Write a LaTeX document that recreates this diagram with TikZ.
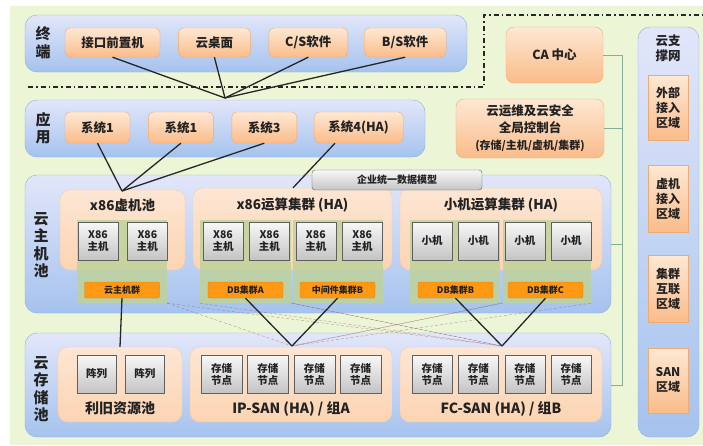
\documentclass[tikz,border=0pt]{standalone}
\usepackage{fontspec}
\setmainfont{Noto Sans CJK SC}
\usetikzlibrary{positioning}
\definecolor{bggreen}{RGB}{236,246,214}
\definecolor{bandtop}{RGB}{226,230,250}
\definecolor{bandbot}{RGB}{165,195,238}
\definecolor{bandline}{RGB}{140,172,220}
\definecolor{orgtop}{RGB}{254,232,212}
\definecolor{orgbot}{RGB}{250,188,138}
\definecolor{orgline}{RGB}{238,170,115}
\definecolor{pooltop}{RGB}{253,230,212}
\definecolor{poolbot}{RGB}{252,212,178}
\definecolor{hosttop}{RGB}{248,248,248}
\definecolor{hostbot}{RGB}{196,196,196}
\definecolor{hostline}{RGB}{95,95,95}
\definecolor{barfill}{RGB}{255,152,18}
\definecolor{grpfill}{RGB}{190,210,155}
\definecolor{busline}{RGB}{135,175,150}
\definecolor{txt}{RGB}{34,34,34}
\tikzset{
  band/.style = {draw=bandline, rounded corners=12pt, top color=bandtop, bottom color=bandbot, inner sep=0pt},
  layertitle/.style = {align=center, font=\bfseries\fontsize{15}{17.5}\selectfont, text=txt},
  obox/.style = {draw=orgline, rounded corners=5pt, top color=orgtop, bottom color=orgbot, minimum height=29pt, inner sep=0pt, align=center, font=\bfseries\fontsize{12.5}{15}\selectfont, text=txt},
  pool/.style = {draw=orgline!60, rounded corners=10pt, top color=pooltop, bottom color=poolbot, inner sep=0pt},
  pooltitle/.style = {font=\bfseries\fontsize{13.5}{16}\selectfont, text=txt},
  grp/.style = {fill=grpfill, fill opacity=0.85, minimum height=83pt, inner sep=0pt},
  hostbox/.style = {draw=hostline, top color=hosttop, bottom color=hostbot, minimum width=40pt, minimum height=38pt, inner sep=0pt, align=center, font=\bfseries\fontsize{10.5}{12}\selectfont, text=txt},
  bar/.style = {fill=barfill, draw=barfill!85!black, rounded corners=2pt, minimum width=75pt, minimum height=16pt, inner sep=0pt, font=\bfseries\fontsize{9}{10}\selectfont, text=txt},
  zone/.style = {draw=orgline, top color=orgtop, bottom color=orgbot, minimum width=40pt, inner sep=0pt, align=center, font=\bfseries\fontsize{12}{15}\selectfont, text=txt},
  link/.style = {draw=black!85, line width=1.3pt},
  backup/.style = {draw=red!20!gray, densely dashed, line width=0.5pt, opacity=0.55},
  bus/.style = {draw=busline, line width=0.8pt},
  edgeline/.style = {draw=black!85, line width=1.6pt, dash pattern=on 5pt off 3pt on 1.5pt off 3pt}
}

\begin{document}
\begin{tikzpicture}[x=1pt, y=-1pt]
    \useasboundingbox (0,0) rectangle (703,445);
    \fill [bggreen] (10,6) rectangle (703,445);

    % Layer bands
    \node [band, minimum width=442pt, minimum height=57pt] (term) at (246,43.5) {};
    \node [band, minimum width=400pt, minimum height=57pt] (app) at (225,128.5) {};
    \node [band, minimum width=586pt, minimum height=138pt] (hostpool) at (318,244) {};
    \node [band, minimum width=586pt, minimum height=104pt] (storepool) at (318,385) {};
    \node [band, minimum width=61pt, minimum height=410pt] (supnet) at (668.5,232) {};

    \node [layertitle] (termtitle) at (43,43) {终\\端};
    \node [layertitle] (apptitle) at (43,128) {应\\用};
    \node [layertitle] (hostpooltitle) at (41,245) {云\\主\\机\\池};
    \node [layertitle] (storepooltitle) at (41,389) {云\\存\\储\\池};
    \node [layertitle, font=\bfseries\fontsize{12.5}{15}\selectfont] (supnettitle) at (668,48) {云支\\撑网};

    % Boundary of the terminal zone
    \draw [edgeline] (28,87) -- (484,87) -- (484,15) -- (703,15);

    % Terminal layer
    \node [obox, minimum width=95pt] (gateway) at (112.5,42.5) {接口前置机};
    \node [obox, minimum width=72pt, right=18pt of gateway] (desktop) {云桌面};
    \node [obox, minimum width=79pt, right=18pt of desktop] (csapp) {C/S软件};
    \node [obox, minimum width=82pt, right=16pt of csapp] (bsapp) {B/S软件};

    % Application layer
    \node [obox, minimum width=65pt, minimum height=31pt] (sysa) at (97.5,127.5) {系统1};
    \node [obox, minimum width=65pt, minimum height=31pt, right=18pt of sysa] (sysb) {系统1};
    \node [obox, minimum width=65pt, minimum height=31pt, right=18pt of sysb] (sysc) {系统3};
    \node [obox, minimum width=89pt, minimum height=31pt, right=17pt of sysc] (sysd) {系统4(HA)};

    % Management side
    \node [obox, minimum width=97pt, minimum height=56pt, rounded corners=8pt] (ca) at (554.5,55) {CA 中心};
    \node [obox, minimum width=148pt, minimum height=59pt, rounded corners=8pt, font=\bfseries\fontsize{12.5}{17}\selectfont] (console) at (530,128.5)
        {云运维及云安全\\全局控制台\\{\fontsize{11}{13}\selectfont (存储/主机/虚机/集群)}};

    % Support network zones
    \node [zone, minimum height=65pt] (extzone) at (668,107.5) {外部\\接入\\区域};
    \node [zone, minimum height=67pt] (vmzone) at (668,198.5) {虚机\\接入\\区域};
    \node [zone, minimum height=67pt] (clzone) at (668,288.5) {集群\\互联\\区域};
    \node [zone, minimum height=65pt] (sanzone) at (668,380.5) {SAN\\区域};

    % Host pools
    \node [pool, minimum width=125pt, minimum height=80pt] (vmpool) at (122.5,230) {};
    \node [pool, minimum width=199pt, minimum height=82pt] (x86pool) at (292.5,229) {};
    \node [pool, minimum width=202pt, minimum height=82pt] (minipool) at (501,229) {};
    \node [pooltitle] (vmpooltitle) at (122.5,205) {x86虚机池};
    \node [pooltitle] (x86pooltitle) at (292.5,205) {x86运算集群 (HA)};
    \node [pooltitle] (minipooltitle) at (501,205) {小机运算集群 (HA)};

    \node [grp, minimum width=90pt] (vmgrp) at (122,261.5) {};
    \node [grp, minimum width=91pt] (dbagrp) at (245.5,261.5) {};
    \node [grp, minimum width=90pt] (mwbgrp) at (338,261.5) {};
    \node [grp, minimum width=90pt] (dbbgrp) at (455,261.5) {};
    \node [grp, minimum width=88pt] (dbcgrp) at (547,261.5) {};

    \node [hostbox] (vmh1) at (98,241) {X86\\主机};
    \node [hostbox, right=9pt of vmh1] (vmh2) {X86\\主机};
    \node [hostbox] (x86h1) at (223,241) {X86\\主机};
    \node [hostbox, right=6pt of x86h1] (x86h2) {X86\\主机};
    \node [hostbox, right=6pt of x86h2] (x86h3) {X86\\主机};
    \node [hostbox, right=6pt of x86h3] (x86h4) {X86\\主机};
    \node [hostbox] (minih1) at (432,241) {小机};
    \node [hostbox, right=6pt of minih1] (minih2) {小机};
    \node [hostbox, right=6pt of minih2] (minih3) {小机};
    \node [hostbox, right=6pt of minih3] (minih4) {小机};

    \node [bar] (vmbar) at (122,290) {云主机群};
    \node [bar] (dbabar) at (245.5,290) {DB集群A};
    \node [bar] (mwbbar) at (337.5,290) {中间件集群B};
    \node [bar] (dbbbar) at (455.5,290) {DB集群B};
    \node [bar] (dbcbar) at (545.5,290) {DB集群C};

    \node [hostbox, minimum width=170pt, minimum height=20pt, rounded corners=3pt, font=\bfseries\fontsize{10}{12}\selectfont] (datamodel) at (397,180) {企业统一数据模型};

    % Storage pools
    \node [pool, minimum width=124pt, minimum height=75pt] (legacy) at (120,384.5) {};
    \node [pool, minimum width=202pt, minimum height=75pt] (ipsan) at (291,384.5) {};
    \node [pool, minimum width=202pt, minimum height=75pt] (fcsan) at (501,384.5) {};
    \node [pooltitle, font=\bfseries\fontsize{14}{16}\selectfont] (legacytitle) at (120,408.5) {利旧资源池};
    \node [pooltitle, font=\bfseries\fontsize{14}{16}\selectfont] (ipsantitle) at (291,409) {IP-SAN (HA) / 组A};
    \node [pooltitle, font=\bfseries\fontsize{14}{16}\selectfont] (fcsantitle) at (501,409) {FC-SAN (HA) / 组B};

    \node [hostbox, minimum width=39pt] (arr1) at (96.5,374) {阵列};
    \node [hostbox, minimum width=39pt, right=9pt of arr1] (arr2) {阵列};
    \node [hostbox, minimum width=41pt] (ipn1) at (221.5,374) {存储\\节点};
    \node [hostbox, minimum width=41pt, right=5pt of ipn1] (ipn2) {存储\\节点};
    \node [hostbox, minimum width=41pt, right=5pt of ipn2] (ipn3) {存储\\节点};
    \node [hostbox, minimum width=41pt, right=5pt of ipn3] (ipn4) {存储\\节点};
    \node [hostbox] (fcn1) at (432,374) {存储\\节点};
    \node [hostbox, right=6pt of fcn1] (fcn2) {存储\\节点};
    \node [hostbox, right=6pt of fcn2] (fcn3) {存储\\节点};
    \node [hostbox, right=6pt of fcn3] (fcn4) {存储\\节点};

    % Hubs where the lines meet
    \coordinate (termhub) at (225,98);
    \coordinate (apphub) at (122,191);
    \coordinate (iphub) at (292,346);
    \coordinate (fchub) at (502,346);

    % Terminal and application links
    \draw [link] (gateway.south) -- (termhub);
    \draw [link] (desktop.south) -- (termhub);
    \draw [link] (csapp.south) -- (termhub);
    \draw [link] (bsapp.south) -- (termhub);
    \draw [link] (sysa.south) -- (apphub);
    \draw [link] (sysb.south) -- (apphub);
    \draw [link] (sysc.south) -- (apphub);
    \draw [link] ([xshift=21pt]sysd.south west) -- (x86pool.north -| 293,0);

    % Backup paths to the other SAN
    \draw [backup] (vmgrp.south east) -- (iphub);
    \draw [backup] (vmgrp.south east) -- (fchub);
    \draw [backup] (dbagrp.south west) -- (fchub);
    \draw [backup] (dbagrp.south east) -- (fchub);
    \draw [backup] (mwbgrp.south west) -- (fchub);
    \draw [backup] (dbbgrp.south east) -- (iphub);
    \draw [backup] (dbcgrp.south west) -- (iphub);
    \draw [backup] (dbcgrp.south east) -- (iphub);

    % Primary storage links
    \draw [link] (vmbar.south) -- (legacy.north);
    \draw [link] (dbabar.south) -- (iphub);
    \draw [link] (mwbbar.south) -- (iphub);
    \draw [link] (dbbbar.south) -- (fchub);
    \draw [link] (dbcbar.south) -- (fchub);

    % Management bus
    \draw [bus] (ca.east) -- ++(19,0) |- (storepool.east);
    \draw [bus] (console.east) -- (console.east -| 622,0);
    \draw [bus] (hostpool.east) -- (hostpool.east -| 622,0);

\end{tikzpicture}
\end{document}
